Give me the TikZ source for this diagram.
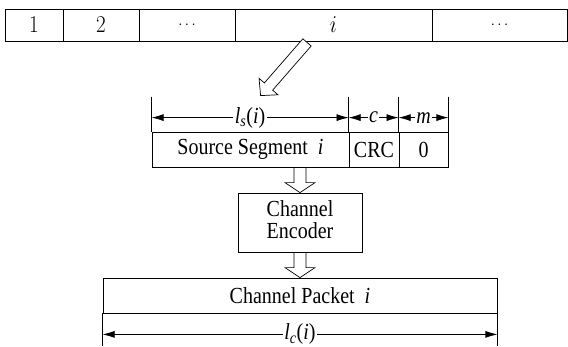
\RequirePackage{fix-cm}
\documentclass[tikz,border=0pt]{standalone}
\usepackage{graphicx}
\usepackage{fontspec}
\setmainfont{Liberation Serif}
\newfontfamily\lmr{Latin Modern Roman}
\usetikzlibrary{calc,arrows.meta}
\newcommand{\vst}[1]{\scalebox{1}[1.15]{#1}}
\newcommand{\hollowarrow}[5]{%
  \coordinate (hb) at ($(#2)!#5!(#1)$);
  \draw[line width=0.7pt, fill=white, line join=miter]
    ($(#1)!#3!90:(#2)$) -- ($(hb)!#3!90:(#2)$) -- ($(hb)!#4!90:(#2)$) -- (#2)
    -- ($(hb)!#4!-90:(#2)$) -- ($(hb)!#3!-90:(#2)$) -- ($(#1)!#3!-90:(#2)$) -- cycle;}
\begin{document}
\begin{tikzpicture}[x=1pt,y=-1pt, line width=0.8pt,
  cell/.style={draw, minimum height=32pt, inner sep=0pt, font=\lmr\fontsize{21}{21}\selectfont},
  dots/.style={font=\lmr\fontsize{15}{15}\selectfont},
  box/.style={draw, inner sep=0pt, align=center, font=\fontsize{20}{16.5}\selectfont},
  dim/.style={{Latex[length=12pt,width=7pt]}-{Latex[length=12pt,width=7pt]}, line width=0.7pt},
  lab/.style={fill=white, inner sep=1.5pt, font=\fontsize{20}{20}\selectfont},
  tick/.style={line width=0.7pt}]
\useasboundingbox (0,0) rectangle (568,346);
% top bar
\node[cell, minimum width=58pt]  (c1) at (34,25)    {\vst{1}};
\node[cell, minimum width=76pt]  (c2) at (101,25)   {\vst{2}};
\node[cell, minimum width=96pt, dots]  (c3) at (187,25)   {$\cdots$};
\node[cell, minimum width=197pt] (c4) at (333.5,25) {\vst{$i$}};
\node[cell, minimum width=135pt, dots] (c5) at (499.5,25) {$\cdots$};
% segment row
\node[box, minimum width=197pt, minimum height=35pt] (seg)  at (250.5,149.5) {\vst{Source Segment\hspace{0.5em}\textit{i}}};
\node[box, minimum width=50pt,  minimum height=35pt] (crc)  at (374,149.5)   {\vst{CRC}};
\node[box, minimum width=49pt,  minimum height=35pt] (zero) at (423.5,149.5) {\vst{0}};
% ticks above segment row
\coordinate (t1) at ($(seg.north west)+(0,-35)$);
\coordinate (t2) at ($(crc.north west)+(0,-35)$);
\coordinate (t3) at ($(zero.north west)+(0,-35)$);
\coordinate (t4) at ($(zero.north east)+(0,-35)$);
\draw[tick] (t1) -- (seg.north west);
\draw[tick] (t2) -- (crc.north west);
\draw[tick] (t3) -- (zero.north west);
\draw[tick] (t4) -- (zero.north east);
\coordinate (d1) at ($(seg.north west)+(0,-14)$);
\coordinate (d2) at ($(crc.north west)+(0,-14)$);
\coordinate (d3) at ($(zero.north west)+(0,-14)$);
\coordinate (d4) at ($(zero.north east)+(0,-14)$);
\draw[dim] (d1) -- node[lab] {\vst{\textit{l}\textsubscript{\textit{s}}(\textit{i})}} (d2);
\draw[dim] (d2) -- node[lab, inner sep=1pt] {\vst{\textit{c}}} (d3);
\draw[dim] (d3) -- node[lab, inner sep=1pt] {\vst{\textit{m}}} (d4);
% encoder and packet
\node[box, minimum width=124pt, minimum height=59pt] (enc) at (300,222.5)
  {\vst{\begin{tabular}{@{}c@{}}Channel\\Encoder\end{tabular}}};
\node[box, minimum width=394pt, minimum height=35pt] (pkt) at (300,295.5) {\vst{Channel Packet\hspace{0.5em}\textit{i}}};
\coordinate (p1) at ($(pkt.south west)+(0,33)$);
\coordinate (p2) at ($(pkt.south east)+(0,33)$);
\draw[tick] (pkt.south west) -- (p1);
\draw[tick] (pkt.south east) -- (p2);
\coordinate (q1) at ($(pkt.south west)+(0,21)$);
\coordinate (q2) at ($(pkt.south east)+(0,21)$);
\draw[dim] (q1) -- node[lab] {\vst{\textit{l}\textsubscript{\textit{c}}(\textit{i})}} (q2);
% hollow arrows
\coordinate (bt) at ($(c4.south)+(-26.5,1)$);
\coordinate (bh) at ($(t1)+(109,-1)$);
\hollowarrow{bt}{bh}{5.5pt}{12.5pt}{12pt}
\coordinate (a1) at (enc.north |- seg.south);
\hollowarrow{a1}{enc.north}{6pt}{15pt}{10pt}
\coordinate (a2) at (pkt.north -| enc.south);
\hollowarrow{enc.south}{a2}{6pt}{15pt}{10pt}
\end{tikzpicture}
\end{document}
